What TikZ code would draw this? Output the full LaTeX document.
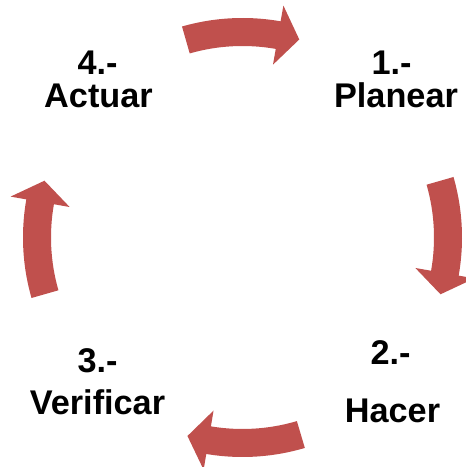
\documentclass[tikz,border=0pt]{standalone}
\usepackage{fontspec}
\setmainfont{Liberation Sans}
\usetikzlibrary{calc}
\definecolor{cycleRed}{RGB}{192,80,77}
\tikzset{
    cyclearrow/.style={fill=cycleRed, draw=none},
    steplabel/.style={anchor=base, inner sep=0pt,
        font=\fontsize{19.5}{22}\selectfont\bfseries},
}

\begin{document}
\begin{tikzpicture}[x=0.02cm, y=0.02cm]
\useasboundingbox (0,0) rectangle (466,467);

% centre of the cycle
\coordinate (c) at (242.5,229.5);

% Curved arrows, clockwise: tail angle / tip angle
\foreach \s/\t in {106/74, 16/-16, -73.5/-105.5, 196/164}{
    \pgfmathsetmacro{\b}{\t+6}
    \fill[cyclearrow] ($(c)+(\s:219.5)$)
        arc[start angle=\s, end angle=\b, radius=219.5]
        -- ($(c)+(\b:235.5)$) -- ($(c)+(\t:206)$) -- ($(c)+(\b:175.5)$)
        -- ($(c)+(\b:191.5)$)
        arc[start angle=\b, end angle=\s, radius=191.5] -- cycle;
}

% 1.- Planear
\node[steplabel] (num1) at (391.5,392) {1.-};
\node[steplabel] (name1) at (396,359) {Planear};

% 2.- Hacer
\node[steplabel] (num2) at (390.5,102) {2.-};
\node[steplabel] (name2) at (392.5,44) {Hacer};

% 3.- Verificar
\node[steplabel] (num3) at (97.5,94) {3.-};
\node[steplabel] (name3) at (97.5,52) {Verificar};

% 4.- Actuar
\node[steplabel] (num4) at (97.5,392) {4.-};
\node[steplabel] (name4) at (98.5,359) {Actuar};

\end{tikzpicture}
\end{document}
